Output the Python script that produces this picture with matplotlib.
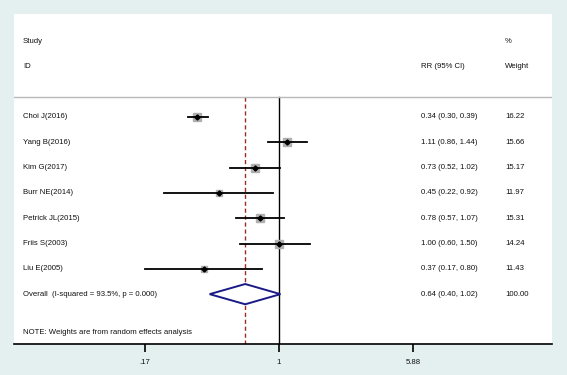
import numpy as np
import matplotlib
matplotlib.use("Agg")
import matplotlib.pyplot as plt
import matplotlib.transforms as mtransforms

studies = ["Choi J(2016)", "Yang B(2016)", "Kim G(2017)", "Burr NE(2014)",
           "Petrick JL(2015)", "Friis S(2003)", "Liu E(2005)"]
rr = [0.34, 1.11, 0.73, 0.45, 0.78, 1.00, 0.37]
lo = [0.30, 0.86, 0.52, 0.22, 0.57, 0.60, 0.17]
hi = [0.39, 1.44, 1.02, 0.92, 1.07, 1.50, 0.80]
weights = [16.22, 15.66, 15.17, 11.97, 15.31, 14.24, 11.43]
overall = (0.64, 0.40, 1.02)
overall_label = "Overall  (I-squared = 93.5%, p = 0.000)"
note = "NOTE: Weights are from random effects analysis"
xticks = [0.17, 1, 5.88]
xticklabels = [".17", "1", "5.88"]

plt.rcParams['font.family'] = ['Liberation Sans', 'DejaVu Sans']
fs = 5.6
tc = "#111111"

W, H = 567, 375
fig = plt.figure(figsize=(W / 100, H / 100), dpi=100)
fig.patch.set_facecolor("#e4eff0")
ax = fig.add_axes([14 / W, (H - 344) / H, (552 - 14) / W, (344 - 14) / H])
ax.set_facecolor("white")
ax.set_xscale("log")
ax.set_xlim(0.0301, 36.97)
ax.set_ylim(8.97, -4.07)
for s in ["top", "left", "right"]:
    ax.spines[s].set_visible(False)
ax.spines["bottom"].set_linewidth(1.2)
ax.set_yticks([])
ax.set_xticks(xticks)
ax.set_xticklabels(xticklabels, fontsize=fs, color=tc)
ax.xaxis.set_minor_locator(matplotlib.ticker.NullLocator())
ax.tick_params(axis="x", length=6, width=1.2, direction="out", pad=5)

trans = mtransforms.blended_transform_factory(ax.transAxes, ax.transData)
xl, xrr, xw = 0.0167, 0.7565, 0.9126

# headers
ax.text(xl, -3, "Study", transform=trans, fontsize=fs, color=tc, va="center")
ax.text(xl, -2, "ID", transform=trans, fontsize=fs, color=tc, va="center")
ax.text(xrr, -2, "RR (95% CI)", transform=trans, fontsize=fs, color=tc, va="center")
ax.text(xw, -3, "%", transform=trans, fontsize=fs, color=tc, va="center")
ax.text(xw, -2, "Weight", transform=trans, fontsize=fs, color=tc, va="center")
ax.axhline(-0.8, color="#b8b8b8", lw=1.0)

# reference lines
ax.plot([1, 1], [-0.8, 8.97], color="black", lw=1.0, zorder=1)
ax.plot([overall[0]] * 2, [-0.8, 8.97], color="#9b2a2a", lw=1.0,
        ls=(0, (3, 2)), zorder=1)

for i, (s, r, l, h, w) in enumerate(zip(studies, rr, lo, hi, weights)):
    ms = 5.4 * np.sqrt(w / 16.22)
    ax.plot([r], [i], marker="s", ms=ms, color="#b0b0b0", mec="#b0b0b0", zorder=2)
    ax.plot([l, h], [i, i], color="black", lw=1.3, zorder=3)
    ax.plot([r], [i], marker="D", ms=2.6, color="black", zorder=4)
    ax.text(xl, i, s, transform=trans, fontsize=fs, color=tc, va="center")
    ax.text(xrr, i, f"{r:.2f} ({l:.2f}, {h:.2f})", transform=trans,
            fontsize=fs, color=tc, va="center")
    ax.text(xw, i, f"{w:.2f}", transform=trans, fontsize=fs, color=tc, va="center")

io = len(studies)
m, l, h = overall
ax.fill([l, m, h, m, l], [io, io - 0.4, io, io + 0.4, io], facecolor="white",
        edgecolor="#1a1a86", lw=1.4, zorder=5)
ax.text(xl, io, overall_label, transform=trans, fontsize=fs, color=tc, va="center")
ax.text(xrr, io, f"{m:.2f} ({l:.2f}, {h:.2f})", transform=trans, fontsize=fs,
        color=tc, va="center")
ax.text(xw, io, f"{sum(weights):.2f}", transform=trans, fontsize=fs, color=tc, va="center")
ax.text(xl, io + 1.5, note, transform=trans, fontsize=fs, color=tc, va="center")

fig.savefig("out.png", dpi=100, facecolor=fig.get_facecolor())
